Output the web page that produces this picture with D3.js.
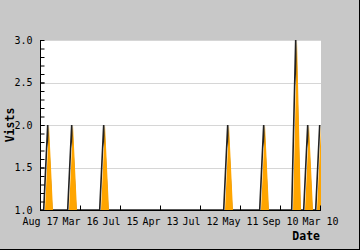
<!DOCTYPE html>
<html>
<head>
<meta charset="utf-8">
<script src="https://cdn.jsdelivr.net/npm/d3@7"></script>
<style>
  html, body { margin: 0; padding: 0; background: #c8c8c8; }
  svg { display: block; }
  .axis text { font-family: "DejaVu Sans Mono", monospace; font-size: 10px; fill: #000; }
  .title { font-family: "DejaVu Sans Mono", monospace; font-size: 11.5px; font-weight: bold; fill: #000; }
</style>
</head>
<body>
<div id="chart"></div>
<script>
// visits per point, newest first (one point every 4px on the original)
var visits = [
  1, 1, 2, 1, 1, 1, 1, 1, 2, 1,
  1, 1, 1, 1, 1, 1, 2, 1, 1, 1,
  1, 1, 1, 1, 1, 1, 1, 1, 1, 1,
  1, 1, 1, 1, 1, 1, 1, 1, 1, 1,
  1, 1, 1, 1, 1, 1, 1, 2, 1, 1,
  1, 1, 1, 1, 1, 1, 2, 1, 1, 1,
  1, 1, 1, 1, 3, 1, 1, 2, 1, 1,
  2
];
var tickIndex = [0, 10, 20, 30, 40, 50, 60, 70];
var tickLabels = ["Aug 17", "Mar 16", "Jul 15", "Apr 13", "Jul 12", "May 11", "Sep 10", "Mar 10"];
var yMajor = [1.0, 1.5, 2.0, 2.5, 3.0];

var width = 360;
var height = 250;
var plotLeft = 40, plotRight = 321, plotTop = 40, plotBottom = 210;

var svg = d3.select("#chart").append("svg")
  .attr("width", width)
  .attr("height", height);

svg.append("rect")
  .attr("width", width).attr("height", height)
  .attr("fill", "#c8c8c8");

// dark edge right/bottom
svg.append("line").attr("x1", width - 0.5).attr("x2", width - 0.5).attr("y1", 0).attr("y2", height)
  .attr("stroke", "#000");
svg.append("line").attr("x1", 0).attr("x2", width).attr("y1", height - 0.5).attr("y2", height - 0.5)
  .attr("stroke", "#000");

svg.append("rect")
  .attr("x", plotLeft).attr("y", plotTop)
  .attr("width", plotRight - plotLeft).attr("height", plotBottom - plotTop)
  .attr("fill", "#fff");

var x = d3.scaleLinear().domain([0, visits.length - 1]).range([plotLeft, 320]);
var y = d3.scaleLinear().domain([1, 3]).range([plotBottom, plotTop]);

/* grid */
svg.append("g").selectAll("line")
  .data(yMajor.slice(1)).enter()
  .append("line")
  .attr("x1", plotLeft).attr("x2", plotRight)
  .attr("y1", d => Math.round(y(d)) + 0.5)
  .attr("y2", d => Math.round(y(d)) + 0.5)
  .attr("stroke", "#d6d6d6");

/* series: line first (offset left), area over it */
var line = d3.line()
  .x((d, i) => x(i) - 0.3)
  .y(d => y(d));

var area = d3.area()
  .x((d, i) => x(i) + 1)
  .y0(plotBottom)
  .y1(d => y(d));

var clip = svg.append("clipPath").attr("id", "plotclip")
  .append("rect")
  .attr("x", plotLeft).attr("y", plotTop)
  .attr("width", plotRight - plotLeft).attr("height", plotBottom - plotTop);

var series = svg.append("g").attr("clip-path", "url(#plotclip)");

series.append("path")
  .attr("d", line(visits))
  .attr("fill", "none")
  .attr("stroke", "#222")
  .attr("stroke-width", 1.6);

series.append("path")
  .attr("d", area(visits))
  .attr("fill", "#ffa500");

/* axes */
var yAxis = d3.axisLeft(y).tickValues(yMajor).tickSize(-4).tickSizeOuter(0).tickPadding(8)
  .tickFormat(d3.format(".1f"));
var yMinor = d3.axisLeft(y).tickValues(d3.range(1.1, 3, 0.1)).tickSize(-4).tickSizeOuter(0)
  .tickFormat("");

svg.append("g")
  .attr("class", "axis")
  .attr("transform", `translate(${plotLeft + 0.5}, 0)`)
  .call(yMinor)
  .call(g => g.select(".domain").remove());

svg.append("g")
  .attr("class", "axis")
  .attr("transform", `translate(${plotLeft + 0.5}, 0)`)
  .call(yAxis)
  .call(g => g.select(".domain").attr("d", `M0,${plotTop}V${plotBottom}`));

var xAxis = d3.axisBottom(x).tickValues(tickIndex).tickSize(-5).tickSizeOuter(0).tickPadding(7)
  .tickFormat((d, i) => tickLabels[i]);

svg.append("g")
  .attr("class", "axis")
  .attr("transform", `translate(0, ${plotBottom + 0.5})`)
  .call(xAxis)
  .call(g => g.select(".domain").attr("d", `M${plotLeft},0H${plotRight}`));

svg.selectAll(".axis .tick line").attr("stroke", "#000");
svg.selectAll(".axis .domain").attr("stroke", "#000");

/* titles */
svg.append("text")
  .attr("class", "title")
  .attr("transform", "translate(14, 125) rotate(-90)")
  .attr("text-anchor", "middle")
  .text("Vists");

svg.append("text")
  .attr("class", "title")
  .attr("x", 320).attr("y", 240)
  .attr("text-anchor", "end")
  .text("Date");
</script>
</body>
</html>
